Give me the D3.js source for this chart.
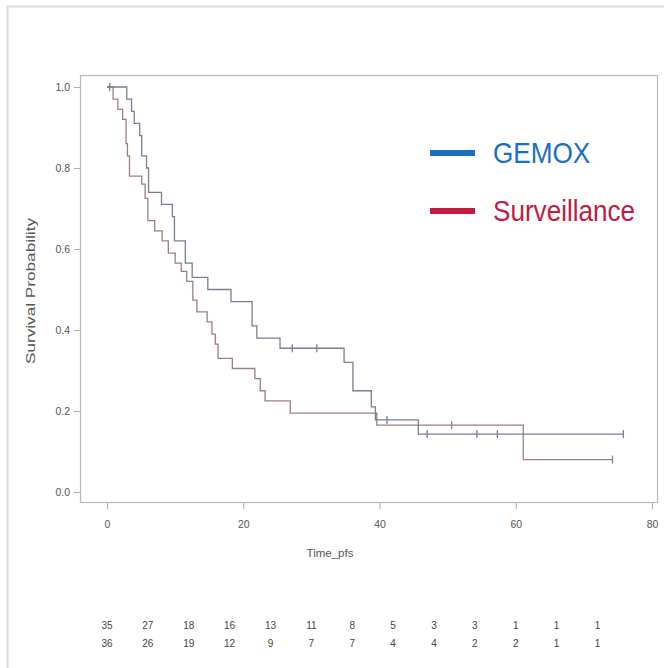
<!DOCTYPE html>
<html>
<head>
<meta charset="utf-8">
<script src="https://cdn.jsdelivr.net/npm/d3@7"></script>
<style>
  body { margin: 0; background: #fff; }
  svg { display: block; font-family: "Liberation Sans", Arial, sans-serif; }
</style>
</head>
<body>
<svg id="km" width="664" height="668"></svg>
<script>
// step times (months) and survival after each step
const gemoxTimes = [0, 2.9, 3.6, 4.0, 4.8, 5.1, 5.8, 6.1, 8.0, 9.6, 9.9, 11.5, 12.5, 14.8, 18.2, 21.3, 22.0, 25.4, 34.8, 36.1, 38.8, 39.4, 45.7];
const gemoxSurv  = [1.0, 0.97, 0.94, 0.91, 0.88, 0.83, 0.80, 0.74, 0.71, 0.68, 0.62, 0.565, 0.53, 0.50, 0.47, 0.41, 0.38, 0.355, 0.32, 0.25, 0.21, 0.178, 0.143];
const gemoxCensor = [0.4, 27.2, 30.8, 41.1, 47.0, 54.3, 57.3, 75.8];
const gemoxEnd = 75.8;

const survTimes = [0, 0.9, 1.6, 2.3, 2.8, 3.0, 3.3, 5.1, 5.6, 6.0, 7.0, 8.1, 9.0, 10.0, 10.9, 11.7, 12.6, 13.2, 14.7, 15.4, 15.9, 16.3, 18.4, 21.7, 22.5, 23.2, 26.9, 39.6, 61.1];
const survSurv  = [1.0, 0.97, 0.945, 0.92, 0.86, 0.83, 0.78, 0.76, 0.725, 0.67, 0.645, 0.62, 0.59, 0.565, 0.545, 0.52, 0.474, 0.445, 0.42, 0.39, 0.365, 0.33, 0.305, 0.28, 0.25, 0.225, 0.195, 0.165, 0.08];
const survCensor = [50.6, 74.2];
const survEnd = 74.2;

const groups = ["GEMOX", "Surveillance"];
const riskTimes = [0, 6, 12, 18, 24, 30, 36, 42, 48, 54, 60, 66, 72];
const riskGemox = [35, 27, 18, 16, 13, 11, 8, 5, 3, 3, 1, 1, 1];
const riskSurv  = [36, 26, 19, 12, 9, 7, 7, 4, 4, 2, 2, 1, 1];

const xTicks = [0, 20, 40, 60, 80];
const yTicks = [0, 0.2, 0.4, 0.6, 0.8, 1.0];

const svg = d3.select("#km");

// faint outer border of the figure
svg.append("rect")
  .attr("x", 7.5).attr("y", 6.5)
  .attr("width", 664).attr("height", 668)
  .attr("fill", "none").attr("stroke", "#dcdcdc").attr("stroke-width", 2);

let x = d3.scaleLinear().domain([0, 80]).range([107, 652]);
let y = d3.scaleLinear().domain([0, 1]).range([492, 87]);

// plot frame
svg.append("rect")
  .attr("x", 80.5).attr("y", 75.5)
  .attr("width", 577).attr("height", 427)
  .attr("fill", "none").attr("stroke", "#b8b8b8").attr("stroke-width", 1.2);

// axes
const xAxis = svg.append("g")
  .attr("transform", "translate(0,503)")
  .call(d3.axisBottom(x).tickValues(xTicks).tickSize(6).tickPadding(12).tickFormat(d3.format("d")));
const yAxis = svg.append("g")
  .attr("transform", "translate(80,0)")
  .call(d3.axisLeft(y).tickValues(yTicks).tickSize(6).tickPadding(4).tickFormat(d3.format(".1f")));

[xAxis, yAxis].forEach(a => {
  a.select(".domain").remove();
  a.selectAll(".tick line").attr("stroke", "#aaa");
  a.selectAll(".tick text").attr("fill", "#555").style("font-size", "10.5px");
});

svg.append("text")
  .attr("x", 330).attr("y", 557)
  .attr("text-anchor", "middle")
  .attr("fill", "#555")
  .style("font-size", "11.5px")
  .text("Time_pfs");

svg.append("text")
  .attr("transform", "translate(35,291) rotate(-90)")
  .attr("text-anchor", "middle")
  .attr("fill", "#555")
  .attr("textLength", 146)
  .attr("lengthAdjust", "spacingAndGlyphs")
  .style("font-size", "13.5px")
  .text("Survival Probability");

// KM step curves
const line = d3.line().x(d => x(d[0])).y(d => y(d[1])).curve(d3.curveStepAfter);

function drawCurve(times, surv, censor, end, color) {
  const pts = times.map((t, i) => [t, surv[i]]);
  pts.push([end, surv[surv.length - 1]]);
  svg.append("path")
    .datum(pts)
    .attr("d", line)
    .attr("fill", "none")
    .attr("stroke", color)
    .attr("stroke-width", 1.3);

  // censor ticks
  const survAt = t => {
    let s = surv[0];
    times.forEach((tt, i) => { if (tt <= t) s = surv[i]; });
    return s;
  };
  svg.selectAll(null)
    .data(censor)
    .enter()
    .append("line")
    .attr("x1", d => x(d)).attr("x2", d => x(d))
    .attr("y1", d => y(survAt(d)) - 4)
    .attr("y2", d => y(survAt(d)) + 4)
    .attr("stroke", color)
    .attr("stroke-width", 1.3);
}

drawCurve(survTimes, survSurv, survCensor, survEnd, "#9c7f80");
drawCurve(gemoxTimes, gemoxSurv, gemoxCensor, gemoxEnd, "#76808f");

// legend
const legendColors = ["#1b6fc0", "#c11b40"];
const legend = svg.selectAll(".legend")
  .data(groups)
  .enter()
  .append("g")
  .attr("class", "legend")
  .attr("transform", (d, i) => `translate(430,${153 + i * 58})`);

legend.append("line")
  .attr("x1", 0).attr("x2", 45)
  .attr("stroke", (d, i) => legendColors[i])
  .attr("stroke-width", 6);

legend.append("text")
  .attr("transform", "translate(63,10) scale(0.87,1)")
  .attr("fill", (d, i) => legendColors[i])
  .style("font-size", "30px")
  .text(d => d);

// number at risk
const riskRows = [riskGemox, riskSurv];
riskRows.forEach((row, r) => {
  svg.selectAll(null)
    .data(row)
    .enter()
    .append("text")
    .attr("x", (d, i) => x(riskTimes[i]))
    .attr("y", 629 + r * 18)
    .attr("text-anchor", "middle")
    .attr("fill", "#444")
    .style("font-size", "10px")
    .text(d => d);
});
</script>
</body>
</html>
